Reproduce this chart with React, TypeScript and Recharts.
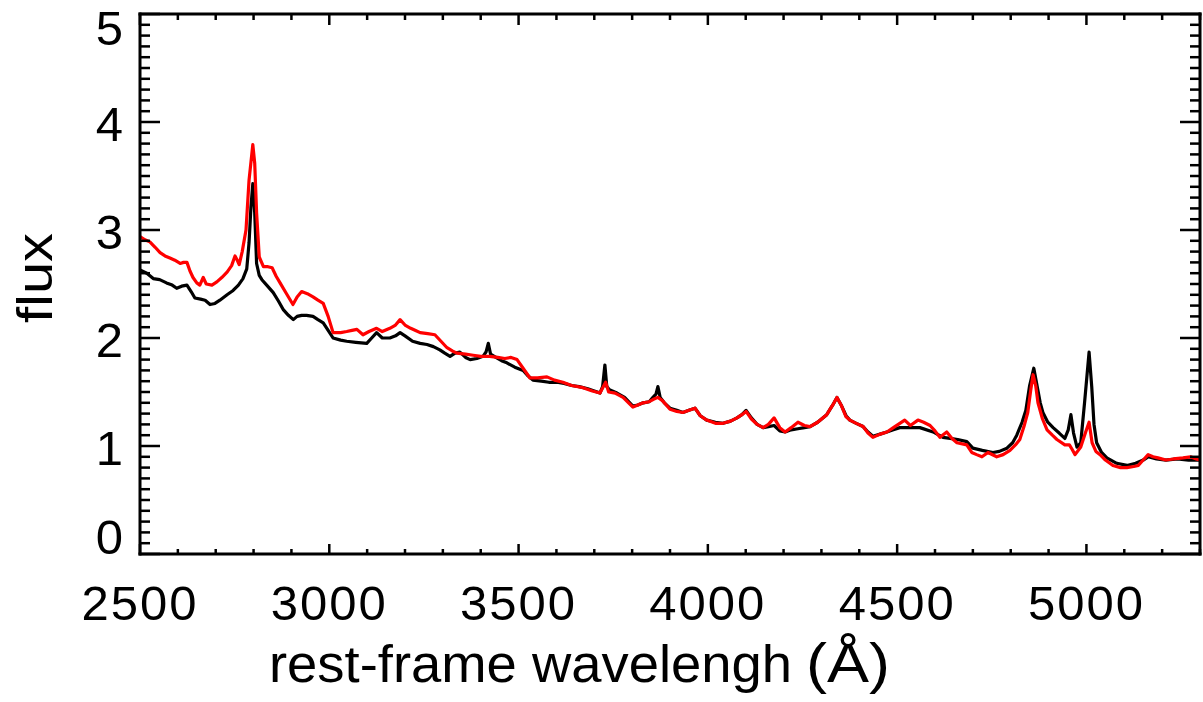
import React from "react";
import { Line, LineChart, XAxis, YAxis } from "recharts";

// black spectrum
const blackWave = [
  2500, 2518, 2535, 2552, 2570, 2585, 2597, 2610, 2624, 2635, 2645, 2660, 2672, 2685, 2698, 2711,
  2730, 2746, 2760, 2772, 2782, 2788, 2793, 2798, 2803, 2808, 2815, 2822, 2837, 2852, 2866, 2879,
  2892, 2905, 2915, 2927, 2940, 2957, 2970, 2984, 2997, 3010, 3030, 3046, 3070, 3099, 3112, 3125,
  3140, 3160, 3175, 3187, 3200, 3220, 3240, 3258, 3275, 3292, 3305, 3319, 3332, 3345, 3360, 3372,
  3390, 3406, 3414, 3420, 3426, 3440, 3455, 3469, 3490, 3512, 3525, 3538, 3560, 3580, 3601, 3620,
  3640, 3660, 3683, 3700, 3715, 3722, 3728, 3733, 3740, 3760, 3780, 3802, 3815, 3829, 3845, 3855,
  3863, 3868, 3874, 3885, 3900, 3918, 3934, 3950, 3966, 3980, 3997, 4020, 4040, 4060, 4077, 4090,
  4101, 4115, 4130, 4146, 4160, 4175, 4190, 4204, 4220, 4238, 4255, 4270, 4290, 4314, 4330, 4341,
  4352, 4365, 4375, 4392, 4410, 4423, 4436, 4455, 4473, 4490, 4507, 4530, 4560, 4595, 4621, 4640,
  4660, 4684, 4700, 4725, 4753, 4770, 4790, 4805, 4816, 4830, 4840, 4850, 4861, 4870, 4878, 4885,
  4898, 4912, 4928, 4943, 4952, 4959, 4966, 4975, 4985, 4995, 5007, 5014, 5020, 5027, 5040, 5054,
  5080, 5107, 5130, 5150, 5163, 5185, 5210, 5240, 5270, 5300,
];
const blackFlux = [
  2.63, 2.6, 2.55, 2.54, 2.51, 2.49, 2.46, 2.48, 2.49, 2.43, 2.37, 2.36, 2.35, 2.31, 2.32, 2.35,
  2.4, 2.44, 2.49, 2.55, 2.64, 2.88, 3.21, 3.43, 3.16, 2.69, 2.58, 2.54, 2.48, 2.42, 2.34, 2.26,
  2.21, 2.17, 2.2, 2.21, 2.21, 2.2, 2.17, 2.14, 2.07, 2.0, 1.98, 1.97, 1.96, 1.95, 2.0, 2.05,
  2.0, 2.0, 2.02, 2.05, 2.02, 1.97, 1.95, 1.94, 1.92, 1.89, 1.86, 1.83, 1.86, 1.87, 1.82, 1.8,
  1.81, 1.83, 1.87, 1.95, 1.85, 1.82, 1.79, 1.77, 1.73, 1.7, 1.65, 1.61, 1.6, 1.59, 1.59, 1.58,
  1.56, 1.55, 1.53, 1.51, 1.49, 1.55, 1.75, 1.55, 1.52, 1.49, 1.45, 1.37, 1.38, 1.4, 1.41, 1.45,
  1.48, 1.55, 1.45, 1.4, 1.35, 1.33, 1.31, 1.33, 1.35, 1.28, 1.24, 1.22, 1.21, 1.23, 1.26, 1.29,
  1.33, 1.26, 1.2, 1.17, 1.18, 1.19, 1.14, 1.13, 1.15, 1.16, 1.17, 1.18, 1.22, 1.29, 1.38, 1.45,
  1.38, 1.28, 1.24, 1.21, 1.18, 1.13, 1.09, 1.11, 1.13, 1.15, 1.17, 1.17, 1.17, 1.13, 1.08, 1.07,
  1.06, 1.04, 0.98, 0.96, 0.94, 0.95, 0.98, 1.03, 1.1, 1.22, 1.33, 1.56, 1.72, 1.55, 1.4, 1.31,
  1.22, 1.17, 1.12, 1.07, 1.15, 1.29, 1.12, 0.99, 1.03, 1.4, 1.87, 1.55, 1.2, 1.03, 0.94, 0.89,
  0.84, 0.82, 0.84, 0.87, 0.9, 0.88, 0.87, 0.88, 0.87, 0.87,
];

// red spectrum
const redWave = [
  2500, 2513, 2526, 2540, 2553, 2566, 2579, 2592, 2606, 2615, 2624, 2632, 2640, 2650, 2658, 2667,
  2675, 2690, 2703, 2716, 2730, 2742, 2751, 2757, 2762, 2770, 2780, 2788, 2798, 2803, 2808, 2815,
  2826, 2838, 2849, 2860, 2870, 2887, 2904, 2915, 2927, 2942, 2957, 2970, 2984, 2997, 3010, 3030,
  3046, 3060, 3073, 3089, 3105, 3125, 3140, 3160, 3175, 3187, 3200, 3215, 3228, 3240, 3260, 3279,
  3295, 3311, 3325, 3337, 3360, 3380, 3400, 3424, 3445, 3464, 3480, 3496, 3512, 3530, 3550, 3575,
  3595, 3617, 3640, 3670, 3695, 3715, 3730, 3738, 3755, 3776, 3802, 3815, 3829, 3845, 3855, 3868,
  3880, 3900, 3918, 3934, 3950, 3966, 3980, 3997, 4020, 4040, 4060, 4077, 4090, 4101, 4115, 4130,
  4146, 4160, 4175, 4190, 4204, 4220, 4238, 4255, 4270, 4290, 4314, 4330, 4341, 4352, 4365, 4375,
  4392, 4410, 4423, 4436, 4455, 4473, 4490, 4507, 4520, 4535, 4555, 4570, 4587, 4600, 4613, 4631,
  4645, 4658, 4684, 4697, 4710, 4724, 4740, 4763, 4780, 4798, 4815, 4824, 4835, 4845, 4853, 4859,
  4866, 4872, 4884, 4896, 4910, 4922, 4943, 4955, 4962, 4970, 4985, 4998, 5007, 5015, 5025, 5036,
  5050, 5070, 5090, 5107, 5125, 5137, 5150, 5163, 5176, 5189, 5210, 5230, 5255, 5275, 5290, 5300,
];
const redFlux = [
  2.94, 2.91, 2.89, 2.84, 2.79, 2.76, 2.74, 2.72, 2.69, 2.7, 2.7, 2.62, 2.56, 2.51, 2.49, 2.56,
  2.5, 2.49, 2.52, 2.56, 2.61, 2.67, 2.76, 2.72, 2.68, 2.8, 3.0, 3.46, 3.79, 3.62, 3.16, 2.75,
  2.66, 2.66, 2.65, 2.57, 2.51, 2.41, 2.31, 2.38, 2.43, 2.41, 2.38, 2.35, 2.32, 2.2, 2.05, 2.05,
  2.06, 2.07, 2.08, 2.03, 2.06, 2.09, 2.06, 2.09, 2.12, 2.17, 2.12, 2.09, 2.07, 2.05, 2.04, 2.03,
  1.97, 1.91, 1.88, 1.86, 1.85, 1.84, 1.83, 1.83, 1.82, 1.81, 1.82, 1.8, 1.72, 1.63, 1.63, 1.64,
  1.61, 1.59, 1.56, 1.54, 1.51, 1.49, 1.59, 1.5, 1.49, 1.45, 1.36, 1.38, 1.4, 1.41, 1.43, 1.45,
  1.42, 1.34, 1.32, 1.31, 1.33, 1.35, 1.28, 1.24, 1.21, 1.21, 1.23, 1.26, 1.29, 1.32, 1.25, 1.2,
  1.17, 1.2, 1.26, 1.17, 1.13, 1.17, 1.22, 1.19, 1.18, 1.22, 1.29, 1.38, 1.45, 1.38, 1.27, 1.24,
  1.21, 1.18, 1.12, 1.08, 1.11, 1.13, 1.17, 1.21, 1.24, 1.19, 1.24, 1.22, 1.19, 1.14, 1.08, 1.13,
  1.07, 1.03, 1.01, 0.94, 0.92, 0.9, 0.94, 0.9, 0.92, 0.96, 1.02, 1.06, 1.18, 1.31, 1.52, 1.66,
  1.56, 1.4, 1.25, 1.15, 1.1, 1.06, 1.01, 1.01, 0.97, 0.92, 0.99, 1.13, 1.22, 1.03, 0.95, 0.92,
  0.87, 0.82, 0.8, 0.8, 0.81, 0.82, 0.87, 0.92, 0.9, 0.89, 0.87, 0.88, 0.89, 0.9, 0.88, 0.87,
];

const xMajorTicks = [2500, 3000, 3500, 4000, 4500, 5000];
const yMajorTicks = [0, 1, 2, 3, 4, 5];
const xTicks = Array.from({ length: 29 }, (_, i) => 2500 + i * 100);
const yTicks = Array.from({ length: 51 }, (_, i) => i / 10);

const blackData = blackWave.map((w, i) => ({ wave: w, flux: blackFlux[i] }));
const redData = redWave.map((w, i) => ({ wave: w, flux: redFlux[i] }));

const FONT = "'Liberation Sans', Arial, Helvetica, sans-serif";
const isYMajor = (v: number) => yMajorTicks.some((m) => Math.abs(m - v) < 1e-6);
const isXMajor = (v: number) => xMajorTicks.includes(v);

const LeftTick = (props: any) => {
  const { x, y, payload } = props;
  const v = payload.value;
  const major = isYMajor(v);
  let dy = 19;
  if (v === 5) dy = 31;
  if (v === 0) dy = 0;
  return (
    <g>
      <line x1={x} x2={x + (major ? 20 : 10)} y1={y} y2={y} stroke="#000" strokeWidth={2.5} />
      {major && (
        <text x={x - 17} y={y + dy} textAnchor="end" fontSize={49} fontFamily={FONT} fill="#000">
          {Math.round(v)}
        </text>
      )}
    </g>
  );
};

const RightTick = (props: any) => {
  const { x, y, payload } = props;
  const major = isYMajor(payload.value);
  return <line x1={x} x2={x - (major ? 20 : 10)} y1={y} y2={y} stroke="#000" strokeWidth={2.5} />;
};

const BottomTick = (props: any) => {
  const { x, y, payload } = props;
  const major = isXMajor(payload.value);
  return (
    <g>
      <line x1={x} x2={x} y1={y} y2={y - (major ? 10 : 5)} stroke="#000" strokeWidth={2.5} />
      {major && (
        <text x={x} y={y + 66} textAnchor="middle" fontSize={49} fontFamily={FONT} letterSpacing={2} fill="#000">
          {payload.value}
        </text>
      )}
    </g>
  );
};

const TopTick = (props: any) => {
  const { x, y, payload } = props;
  const major = isXMajor(payload.value);
  return <line x1={x} x2={x} y1={y} y2={y + (major ? 11 : 6)} stroke="#000" strokeWidth={2.5} />;
};

const XTitle = (props: any) => {
  const { viewBox } = props;
  const base = viewBox.y + 128;
  return (
    <g>
      <text x={viewBox.x + 129} y={base} fontSize={51} fontFamily={FONT} textLength={523} lengthAdjust="spacingAndGlyphs" fill="#000">
        rest-frame wavelengh
      </text>
      <text x={viewBox.x + 666} y={base} fontSize={55} fontFamily={FONT} textLength={84} lengthAdjust="spacingAndGlyphs" fill="#000">
        (Å)
      </text>
    </g>
  );
};

const YTitle = () => (
  <text transform="translate(52, 278) rotate(-90)" textAnchor="middle" fontSize={50} fontFamily={FONT} textLength={90} lengthAdjust="spacingAndGlyphs" fill="#000">
    flux
  </text>
);

const axisStroke = { stroke: "#000", strokeWidth: 3, strokeLinecap: "square" as const };

export default function App() {
  return (
    <div style={{ position: "absolute", left: 0, top: 0, width: 1203, height: 702, background: "#fff" }}>
      <LineChart width={1203} height={702} margin={{ top: 13, right: 2, bottom: 48, left: 10 }}>
        <XAxis
          xAxisId="bottom"
          dataKey="wave"
          type="number"
          domain={[2500, 5300]}
          ticks={xTicks}
          interval={0}
          height={100}
          tickSize={0}
          tickMargin={0}
          tickLine={false}
          axisLine={axisStroke}
          tick={BottomTick}
          allowDataOverflow
          label={{ content: XTitle }}
        />
        <XAxis
          xAxisId="top"
          orientation="top"
          dataKey="wave"
          type="number"
          domain={[2500, 5300]}
          ticks={xTicks}
          interval={0}
          height={1}
          tickSize={0}
          tickMargin={0}
          tickLine={false}
          axisLine={axisStroke}
          tick={TopTick}
          allowDataOverflow
        />
        <YAxis
          yAxisId="left"
          type="number"
          domain={[0, 5]}
          ticks={yTicks}
          interval={0}
          width={130}
          tickSize={0}
          tickMargin={0}
          tickLine={false}
          axisLine={axisStroke}
          tick={LeftTick}
          allowDataOverflow
          label={{ content: YTitle }}
        />
        <YAxis
          yAxisId="right"
          orientation="right"
          type="number"
          domain={[0, 5]}
          ticks={yTicks}
          interval={0}
          width={1}
          tickSize={0}
          tickMargin={0}
          tickLine={false}
          axisLine={axisStroke}
          tick={RightTick}
          allowDataOverflow
        />
        <Line
          data={blackData}
          xAxisId="bottom"
          yAxisId="left"
          dataKey="flux"
          type="linear"
          stroke="#000000"
          strokeWidth={3.2}
          strokeLinejoin="round"
          dot={false}
          activeDot={false}
          isAnimationActive={false}
        />
        <Line
          data={redData}
          xAxisId="bottom"
          yAxisId="left"
          dataKey="flux"
          type="linear"
          stroke="#ff0000"
          strokeWidth={3.2}
          strokeLinejoin="round"
          dot={false}
          activeDot={false}
          isAnimationActive={false}
        />
      </LineChart>
    </div>
  );
}
